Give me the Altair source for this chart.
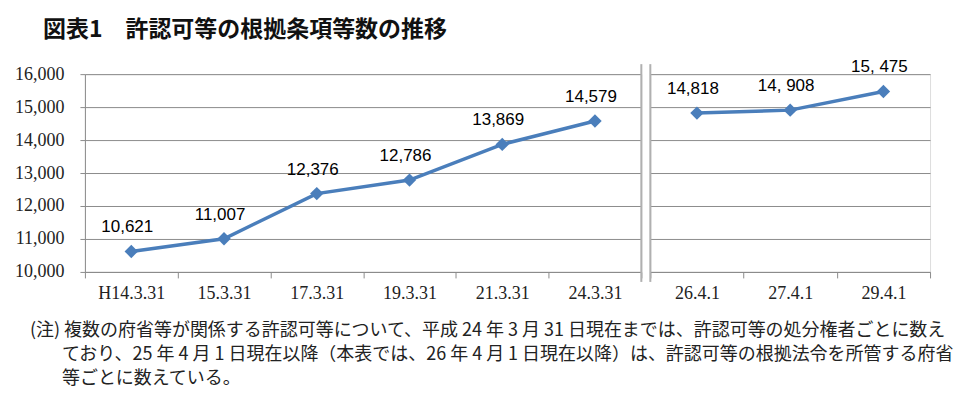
import altair as alt
import pandas as pd

# ---- data ----
cats_a = ["H14.3.31", "15.3.31", "17.3.31", "19.3.31", "21.3.31", "24.3.31"]
vals_a = [10621, 11007, 12376, 12786, 13869, 14579]
labels_a = ["10,621", "11,007", "12,376", "12,786", "13,869", "14,579"]

cats_b = ["26.4.1", "27.4.1", "29.4.1"]
vals_b = [14818, 14908, 15475]
labels_b = ["14,818", "14, 908", "15, 475"]

y_ticks = [10000, 11000, 12000, 13000, 14000, 15000, 16000]

title_text = "図表1　許認可等の根拠条項等数の推移"
note_first = "(注) 複数の府省等が関係する許認可等について、平成 24 年 3 月 31 日現在までは、許認可等の処分権者ごとに数え"
note_rest = [
    "ており、25 年 4 月 1 日現在以降（本表では、26 年 4 月 1 日現在以降）は、許認可等の根拠法令を所管する府省",
    "等ごとに数えている。",
]

BLUE = "#4A7EBB"
GRID = "#8C8C8C"
SEP = "#B0B0B0"
H = 198


def panel(cats, vals, labels, width, left):
    df = pd.DataFrame({"cat": cats, "val": vals, "lab": labels})
    x = alt.X(
        "cat:N",
        sort=None,
        scale=alt.Scale(type="band", paddingInner=0, paddingOuter=0),
        axis=alt.Axis(
            title=None,
            labelAngle=0,
            tickBand="extent",
            grid=False,
            labelFont="Liberation Serif",
            labelFontSize=18,
            labelColor="#222222",
            labelPadding=7,
            tickSize=6,
            tickColor=GRID,
            domainColor=GRID,
        ),
    )
    if left:
        yaxis = alt.Axis(
            title=None,
            values=y_ticks,
            format=",d",
            labelFont="Liberation Serif",
            labelFontSize=18,
            labelColor="#222222",
            labelPadding=16,
            tickSize=5,
            tickColor=GRID,
            domainColor=GRID,
            gridColor=GRID,
            gridOpacity=1,
        )
    else:
        yaxis = alt.Axis(
            title=None,
            values=y_ticks,
            labels=False,
            ticks=False,
            domain=False,
            gridColor=GRID,
            gridOpacity=1,
        )
    y = alt.Y("val:Q", scale=alt.Scale(domain=[10000, 16000], nice=False, zero=False), axis=yaxis)
    base = alt.Chart(df).encode(x=x, y=y)
    line = base.mark_line(color=BLUE, strokeWidth=3.5)
    pts = base.mark_point(shape="diamond", filled=True, size=180, color=BLUE, opacity=1)
    txt = base.mark_text(font="Liberation Sans", fontSize=17, dy=-24, dx=-4, color="black").encode(text="lab:N")
    sep = alt.Chart(pd.DataFrame({"k": [0]})).mark_rule(color=SEP, strokeWidth=2).encode(
        x=alt.value(width if left else 0), y=alt.value(-10), y2=alt.value(H + 10)
    )
    layers = [line, pts, txt, sep]
    if left:
        note_style = dict(
            font="Noto Sans CJK JP",
            fontSize=18,
            align="left",
            baseline="top",
            lineBreak="\n",
            lineHeight=24,
            color="#222222",
        )
        n1 = alt.Chart(pd.DataFrame({"note": [note_first]})).mark_text(**note_style).encode(
            text="note:N", x=alt.value(-55), y=alt.value(248)
        )
        n2 = alt.Chart(pd.DataFrame({"note": ["\n".join(note_rest)]})).mark_text(**note_style).encode(
            text="note:N", x=alt.value(-23), y=alt.value(272)
        )
        layers += [n1, n2]
    return alt.layer(*layers).properties(width=width, height=H)


left = panel(cats_a, vals_a, labels_a, 557, True)
right = panel(cats_b, vals_b, labels_b, 280, False)

chart = (
    alt.hconcat(left, right, spacing=9, bounds="flush")
    .resolve_scale(x="independent")
    .properties(
        title=alt.TitleParams(
            title_text,
            anchor="start",
            font="Noto Sans CJK JP",
            fontSize=23,
            fontWeight="bold",
            color="#111111",
            dx=29,
            offset=16,
        ),
        padding={"left": 6, "top": 10, "right": 5, "bottom": 5},
    )
    .configure_view(stroke=None)
    .configure(background="white")
)

chart.save("out.html", embed_options={"renderer": "svg", "actions": False})
